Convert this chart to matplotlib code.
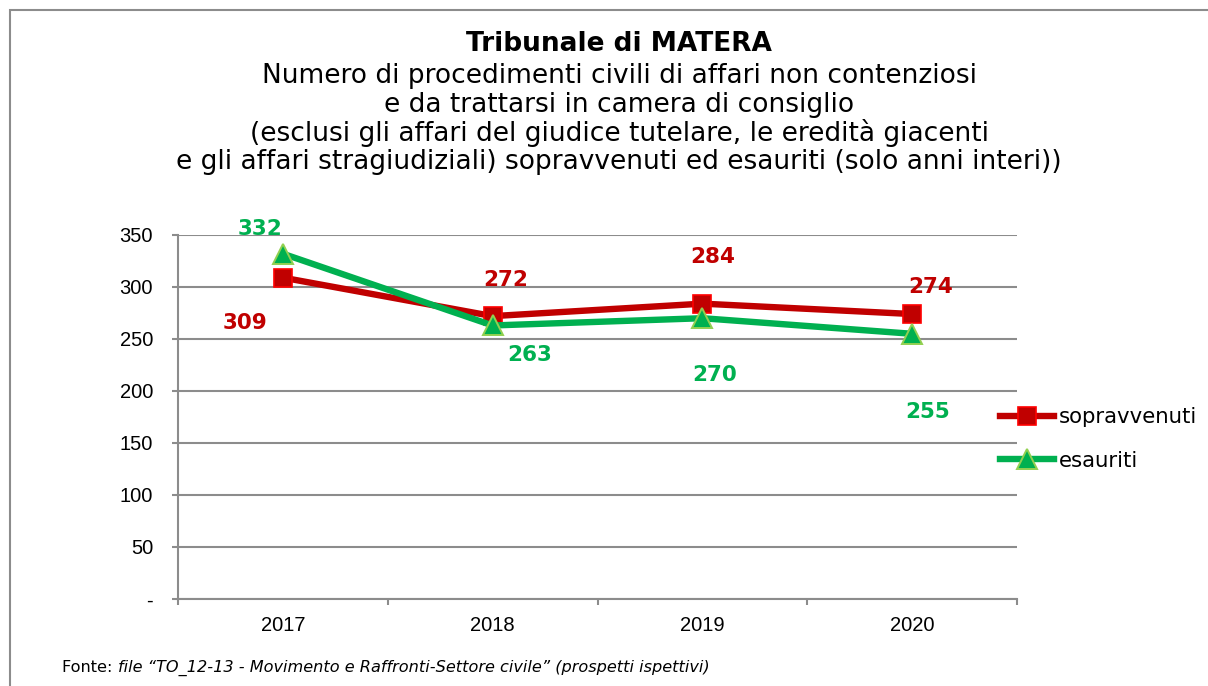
import matplotlib
matplotlib.use("Agg")
import matplotlib.pyplot as plt
from matplotlib.patches import Rectangle

years = ["2017", "2018", "2019", "2020"]
sopravvenuti = [309, 272, 284, 274]
esauriti = [332, 263, 270, 255]
yticks = [0, 50, 100, 150, 200, 250, 300, 350]
ytick_labels = ["-", "50", "100", "150", "200", "250", "300", "350"]

RED = "#C00000"
RED_EDGE = "#FF0000"
GREEN = "#00B050"
GREEN_EDGE = "#92D050"
GRID = "#8C8C8C"

W, H = 1208, 686
fig = plt.figure(figsize=(W / 100, H / 100), dpi=100)
plt.rcParams['font.family'] = ['DejaVu Sans']

# outer frame
fig.patches.append(Rectangle((10 / W, -0.1), 1.5, (H - 10) / H + 0.1,
                             transform=fig.transFigure, fill=False,
                             edgecolor="#8C8C8C", linewidth=1.5))

ax = fig.add_axes([178 / W, (H - 599) / H, (1017 - 178) / W, (599 - 235) / H])
x = list(range(len(years)))

ax.plot(x, sopravvenuti, color=RED, linewidth=4.6, marker="s", markersize=13.5,
        markerfacecolor=RED, markeredgecolor=RED_EDGE, markeredgewidth=1.2,
        label="sopravvenuti", zorder=3, solid_joinstyle="round")
ax.plot(x, esauriti, color=GREEN, linewidth=4.6, marker="^", markersize=14,
        markerfacecolor=GREEN, markeredgecolor=GREEN_EDGE, markeredgewidth=1.4,
        label="esauriti", zorder=4, solid_joinstyle="round")

# data labels (offsets in points)
s_off = [(-27.4, -32.7), (9.4, 26), (7.2, 33.5), (13, 19.4)]
e_off = [(-16.6, 17.8), (26.6, -21.2), (8.6, -40.9), (11.5, -56.3)]
for i, v in enumerate(sopravvenuti):
    ax.annotate(str(v), (x[i], v), xytext=s_off[i], textcoords="offset points",
                ha="center", va="center", color=RED, fontsize=15.5,
                fontweight="bold", zorder=5)
for i, v in enumerate(esauriti):
    ax.annotate(str(v), (x[i], v), xytext=e_off[i], textcoords="offset points",
                ha="center", va="center", color=GREEN, fontsize=15.5,
                fontweight="bold", zorder=5)

ax.set_xlim(-0.5, 3.5)
ax.set_ylim(0, 350)
ax.set_yticks(yticks)
ax.set_yticklabels(ytick_labels, family="Liberation Sans", fontsize=14.5)
ax.set_xticks(x)
ax.set_xticklabels(years, family="Liberation Sans", fontsize=14.5)
ax.set_xticks([-0.5, 0.5, 1.5, 2.5, 3.5], minor=True)
ax.tick_params(axis="x", which="major", length=0, pad=12)
ax.tick_params(axis="x", which="minor", length=4.5, width=1.5, color=GRID, direction="out")
ax.tick_params(axis="y", length=4.3, width=1.5, color=GRID, pad=13.7)

ax.grid(axis="y", color=GRID, linewidth=1.5, zorder=0)
ax.set_axisbelow(True)
for s in ["top", "right"]:
    ax.spines[s].set_visible(False)
for s in ["left", "bottom"]:
    ax.spines[s].set_color(GRID)
    ax.spines[s].set_linewidth(1.5)

leg = ax.legend(loc="center left", bbox_to_anchor=(1000 / W, (H - 439) / H),
                bbox_transform=fig.transFigure, frameon=False, fontsize=15.3,
                handlelength=2.55, handletextpad=0.23, labelspacing=1.09,
                borderaxespad=0, borderpad=0)

# titles
cx = 619 / W
fig.text(cx, 1 - 44 / H, "Tribunale di MATERA", ha="center", va="center",
         fontsize=19, fontweight="bold")
sub = ["Numero di procedimenti civili di affari non contenziosi",
       "e da trattarsi in camera di consiglio",
       "(esclusi gli affari del giudice tutelare, le eredità giacenti",
       "e gli affari stragiudiziali) sopravvenuti ed esauriti (solo anni interi))"]
for i, line in enumerate(sub):
    fig.text(cx, 1 - (76 + 28.7 * i) / H, line, ha="center", va="center", fontsize=19)

# footnote
t = fig.text(62 / W, 1 - 668 / H, "Fonte: ", ha="left", va="center", fontsize=11.6)
fig.canvas.draw()
bb = t.get_window_extent()
fig.text(bb.x1 / W, 1 - 668 / H,
         "file \u201cTO_12-13 - Movimento e Raffronti-Settore civile\u201d (prospetti ispettivi)",
         ha="left", va="center", fontsize=11.6, style="italic")

fig.savefig("out.png", dpi=100)
